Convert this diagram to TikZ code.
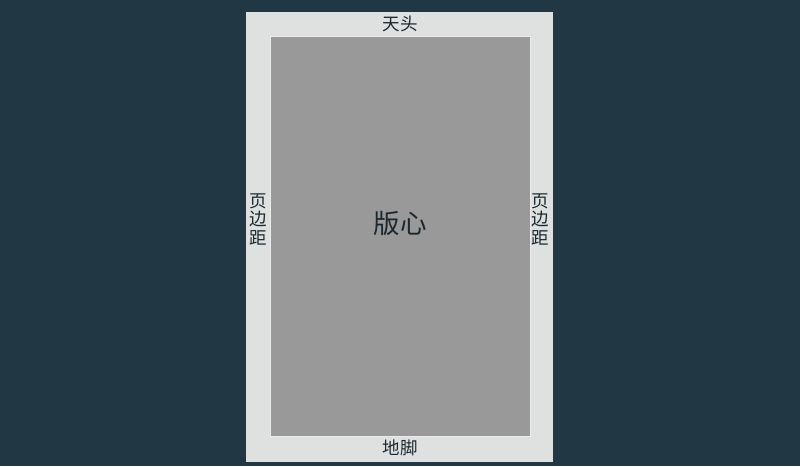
\documentclass[tikz,border=0pt]{standalone}
\usepackage{fontspec}
\newfontfamily\cjk{Noto Sans CJK SC}
\definecolor{bgc}{HTML}{213743}
\definecolor{pagec}{HTML}{DFE1E0}
\definecolor{corec}{HTML}{999999}
\definecolor{txtc}{HTML}{1B2830}
\begin{document}
\begin{tikzpicture}[x=1pt,y=-1pt,
  lbl/.style={font=\cjk\fontsize{17.5}{19}\selectfont, text=txtc, inner sep=0pt},
  vlbl/.style={font=\cjk\fontsize{17.5}{18.5}\selectfont, text=txtc, inner sep=0pt, align=center}]
\useasboundingbox (0,0) rectangle (800,466);
\fill[bgc] (0,0) rectangle (800,466);
\node[fill=pagec, minimum width=307pt, minimum height=450pt, inner sep=0pt, anchor=north west] (page) at (246,11.5) {};
\node[fill=corec, draw=white!80!corec, line width=0.6pt, minimum width=260pt, minimum height=400pt, inner sep=0pt, anchor=north west] (core) at (270,35.5) {};
\node[lbl] (top) at (400,24) {天头};
\node[lbl] (bottom) at (400,448) {地脚};
\node[vlbl] (left) at (258.5,219) {页\\边\\距};
\node[vlbl] (right) at (540.5,219) {页\\边\\距};
\node[font=\cjk\fontsize{26.5}{28}\selectfont, text=txtc, inner sep=0pt] (center) at (400,223) {版心};
\end{tikzpicture}
\end{document}
